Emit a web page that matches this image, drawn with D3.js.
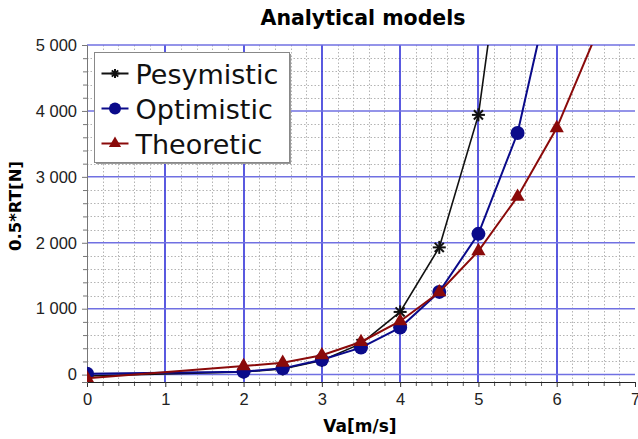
<!DOCTYPE html>
<html>
<head>
<meta charset="utf-8">
<script src="https://cdn.jsdelivr.net/npm/d3@7"></script>
<style>
  body { margin: 0; background: #fff; }
  svg { display: block; font-family: "DejaVu Sans", sans-serif; }
</style>
</head>
<body>
<svg id="chart" width="638" height="439"></svg>
<script>
// data
const speeds = [0, 2, 2.5, 3, 3.5, 4, 4.5, 5, 5.5, 6, 6.5];
const pesymistic = [-20, 40, 85, 215, 470, 951, 1930, 3940, 8300];
const optimistic = [15, 45, 95, 225, 410, 714, 1255, 2135, 3665, 6300];
const theoretic = [-55, 130, 180, 295, 495, 810, 1250, 1875, 2700, 3740, 5150];
const xTicks = [0, 1, 2, 3, 4, 5, 6, 7];
const yTicks = [0, 1000, 2000, 3000, 4000, 5000];
const seriesNames = ["Pesymistic", "Optimistic", "Theoretic"];

const width = 638, height = 439;
const margin = { left: 87, right: 3, top: 45, bottom: 57 };

const svg = d3.select("#chart");

const xScale = d3.scaleLinear().domain([0, 7]).range([margin.left, width - margin.right]);
const yScale = d3.scaleLinear().domain([-112, 5000]).range([height - margin.bottom, margin.top]);
const snap = v => Math.round(v) + 0.5;

const fmt = d3.formatLocale({ decimal: ".", thousands: " ", grouping: [3], currency: ["", ""] }).format(",");

const minorX = d3.range(1, 35).filter(i => i % 5 !== 0).map(i => i / 5);
const minorY = d3.range(1, 25).filter(i => i % 5 !== 0).map(i => i * 200);

svg.append("clipPath").attr("id", "plotClip")
  .append("rect")
  .attr("x", margin.left).attr("y", margin.top)
  .attr("width", width - margin.left - margin.right)
  .attr("height", height - margin.top - margin.bottom);

// minor grid
const grid = svg.append("g");
grid.append("g").selectAll("line").data(minorX).join("line")
  .attr("x1", d => snap(xScale(d))).attr("x2", d => snap(xScale(d)))
  .attr("y1", margin.top).attr("y2", height - margin.bottom)
  .attr("stroke", "#b4b4b4").attr("stroke-dasharray", "1.5,2");
grid.append("g").selectAll("line").data(minorY).join("line")
  .attr("x1", margin.left).attr("x2", width - margin.right)
  .attr("y1", d => snap(yScale(d))).attr("y2", d => snap(yScale(d)))
  .attr("stroke", "#b4b4b4").attr("stroke-dasharray", "1.5,2");

// major grid
grid.append("g").selectAll("line").data(xTicks.slice(1, -1)).join("line")
  .attr("x1", d => Math.round(xScale(d))).attr("x2", d => Math.round(xScale(d)))
  .attr("y1", margin.top).attr("y2", height - margin.bottom)
  .attr("stroke", "#3030d8").attr("stroke-width", 1.6);
grid.append("g").selectAll("line").data(yTicks).join("line")
  .attr("x1", margin.left).attr("x2", width - margin.right)
  .attr("y1", d => yScale(d)).attr("y2", d => yScale(d))
  .attr("stroke", "#7070e2").attr("stroke-width", 1.5);

// axes
const xAxis = d3.axisBottom(xScale).tickValues(xTicks).tickSize(5).tickFormat(d3.format("d"));
const xAxisMinor = d3.axisBottom(xScale).tickValues(minorX).tickSize(4).tickFormat("");
const gxMinor = svg.append("g").attr("transform", `translate(0,${height - margin.bottom})`).call(xAxisMinor);
gxMinor.select(".domain").remove();
gxMinor.selectAll("line").attr("stroke", "#555");
const gx = svg.append("g").attr("transform", `translate(0,${height - margin.bottom})`).call(xAxis);
gx.selectAll("path").attr("stroke", "#222");
gx.selectAll("line").attr("stroke", "#333");
gx.selectAll("text").attr("font-size", 16.5).attr("fill", "#222").attr("dy", "0.9em");

const yAxis = d3.axisLeft(yScale).tickValues(yTicks).tickSize(5).tickPadding(5).tickFormat(fmt);
const yAxisMinor = d3.axisLeft(yScale).tickValues(minorY).tickSize(4).tickFormat("");
const gyMinor = svg.append("g").attr("transform", `translate(${margin.left},0)`).call(yAxisMinor);
gyMinor.select(".domain").remove();
gyMinor.selectAll("line").attr("stroke", "#777");
const gy = svg.append("g").attr("transform", `translate(${margin.left},0)`).call(yAxis);
gy.selectAll("path").attr("stroke", "#777");
gy.selectAll("line").attr("stroke", "#777");
gy.selectAll("text").attr("font-size", 16.5).attr("fill", "#222");

// lines
const colors = ["#111111", "#0a0a8a", "#8a0a0a"];
const allSeries = [pesymistic, optimistic, theoretic].map((vals, i) =>
  vals.map((v, j) => ({ x: speeds[j], y: v, s: i })));

const line = d3.line().x(d => xScale(d.x)).y(d => yScale(d.y));

const plot = svg.append("g").attr("clip-path", "url(#plotClip)");

function drawMarker(g, type, size) {
  if (type === 0) {
    const r = size / 2;
    [[-r, 0, r, 0], [0, -r, 0, r], [-r * 0.7, -r * 0.7, r * 0.7, r * 0.7], [-r * 0.7, r * 0.7, r * 0.7, -r * 0.7]]
      .forEach(c => g.append("line")
        .attr("x1", c[0]).attr("y1", c[1]).attr("x2", c[2]).attr("y2", c[3])
        .attr("stroke", colors[0]).attr("stroke-width", 2));
  } else if (type === 1) {
    g.append("circle").attr("r", size / 2).attr("fill", colors[1]);
  } else {
    g.append("path")
      .attr("d", d3.symbol().type(d3.symbolTriangle).size(size * size * 0.45)())
      .attr("fill", colors[2]);
  }
}

allSeries.forEach((pts, i) => {
  plot.append("path")
    .datum(pts)
    .attr("d", line)
    .attr("fill", "none")
    .attr("stroke", colors[i])
    .attr("stroke-width", i === 0 ? 1.6 : 2);
  pts.forEach(p => {
    const g = plot.append("g").attr("transform", `translate(${xScale(p.x)},${yScale(p.y)})`);
    drawMarker(g, i, i === 0 ? 13 : 14);
  });
});

// legend
const legend = svg.append("g").attr("transform", "translate(94.5,52.5)");
legend.append("rect").attr("x", 1.5).attr("y", 1.5).attr("width", 195).attr("height", 110)
  .attr("fill", "#999");
legend.append("rect").attr("width", 195).attr("height", 110)
  .attr("fill", "#fff").attr("stroke", "#888").attr("stroke-width", 1);
seriesNames.forEach((name, i) => {
  const row = legend.append("g").attr("transform", `translate(0,${21 + i * 35})`);
  row.append("line").attr("x1", 7).attr("x2", 34).attr("y1", 0).attr("y2", 0)
    .attr("stroke", colors[i]).attr("stroke-width", 2);
  const m = row.append("g").attr("transform", "translate(20.5,0)");
  drawMarker(m, i, i === 0 ? 9 : 12);
  row.append("text").attr("x", 41).attr("y", 10).attr("font-size", 27)
    .attr("fill", "#111").text(name);
});

// title and axis labels
svg.append("text").attr("x", 363).attr("y", 25).attr("text-anchor", "middle")
  .attr("font-size", 20.5).attr("font-weight", "bold").text("Analytical models");
svg.append("text").attr("x", 360).attr("y", 432).attr("text-anchor", "middle")
  .attr("font-size", 17).attr("font-weight", "bold").text("Va[m/s]");
svg.append("text").attr("transform", "translate(21,206) rotate(-90)").attr("text-anchor", "middle")
  .attr("font-size", 16.5).attr("font-weight", "bold").text("0.5*RT[N]");
</script>
</body>
</html>
